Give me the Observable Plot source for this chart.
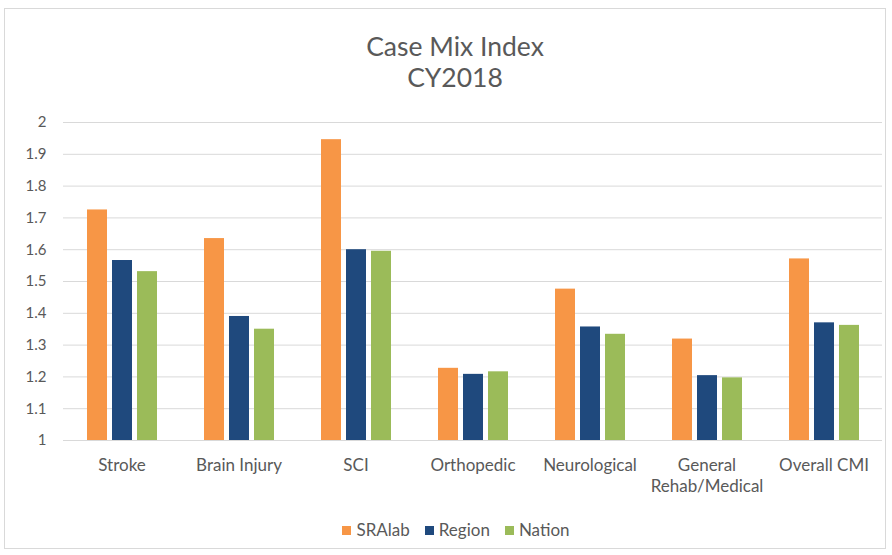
<!DOCTYPE html>
<html>
<head>
<meta charset="utf-8">
<script src="https://cdn.jsdelivr.net/npm/d3@7"></script>
<script src="https://cdn.jsdelivr.net/npm/@observablehq/plot@0.6"></script>
<style>
  html, body { margin: 0; padding: 0; background: #fff; }
  body { width: 892px; height: 555px; position: relative; overflow: hidden; font-family: Lato, "Open Sans", sans-serif; color: #595959; }
  #frame { position: absolute; left: 4px; top: 8px; width: 882px; height: 541px; border: 1px solid #d9d9d9; box-sizing: border-box; }
  #title { position: absolute; left: 0; width: 892px; top: 31px; text-align: center; font-size: 26.5px; line-height: 31px; color: #595959; padding-left: 18px; box-sizing: border-box; }
  #chart { position: absolute; left: 0; top: 100px; }
  #legend { position: absolute; left: 0; width: 892px; top: 519px; display: flex; justify-content: center; gap: 15px; font-size: 17px; line-height: 22px; color: #595959; padding-left: 20px; box-sizing: border-box; }
  #legend span.item { display: inline-flex; align-items: center; gap: 5px; }
  #legend span.sw { display: inline-block; width: 9px; height: 9px; }
  #chart svg { font-family: Lato, "Open Sans", sans-serif; }
  #chart svg text { fill: #595959; }
</style>
</head>
<body>
<div id="frame"></div>
<div id="title">Case Mix Index<br>CY2018</div>
<div id="chart"></div>
<div id="legend"></div>
<script>
const categories = ["Stroke", "Brain Injury", "SCI", "Orthopedic", "Neurological", "General Rehab/Medical", "Overall CMI"];
const seriesNames = ["SRAlab", "Region", "Nation"];
const sralab = [1.725, 1.635, 1.946, 1.227, 1.476, 1.319, 1.571];
const region = [1.566, 1.390, 1.600, 1.208, 1.357, 1.204, 1.370];
const nation = [1.531, 1.350, 1.595, 1.216, 1.334, 1.197, 1.362];
const colors = ["#F79646", "#1F497D", "#9BBB59"];
const yTicks = [1, 1.1, 1.2, 1.3, 1.4, 1.5, 1.6, 1.7, 1.8, 1.9, 2];

const seriesValues = [sralab, region, nation];
const data = [];
categories.forEach((c, i) => {
  seriesNames.forEach((s, j) => {
    data.push({category: c, series: s, value: seriesValues[j][i]});
  });
});

const chart = Plot.plot({
  width: 892,
  height: 400,
  marginTop: 22,
  marginBottom: 60,
  marginLeft: 62,
  marginRight: 10,
  style: {fontSize: "15px", color: "#595959", background: "transparent"},
  fx: {
    domain: categories,
    padding: 0,
    label: null,
    tickSize: 0,
    tickPadding: 18,
    tickFormat: d => d === "General Rehab/Medical" ? "General\nRehab/Medical" : d
  },
  x: {domain: seriesNames, axis: null, paddingInner: 0.2, paddingOuter: 0.94},
  y: {
    domain: [1, 2],
    ticks: yTicks,
    tickFormat: d => String(d),
    tickSize: 0,
    tickPadding: 17,
    label: null
  },
  color: {domain: seriesNames, range: colors},
  marks: [
    Plot.ruleY(yTicks, {stroke: "#d9d9d9", strokeWidth: 1}),
    Plot.barY(data, {fx: "category", x: "series", y1: 1, y2: "value", fill: "series"})
  ]
});
document.getElementById("chart").appendChild(chart);
// larger font and line spacing for category labels
chart.querySelectorAll('g[aria-label^="fx-axis"] text').forEach(t => {
  t.style.fontSize = "17px";
  const spans = t.querySelectorAll("tspan");
  spans.forEach((sp, k) => { if (k > 0) sp.setAttribute("dy", "21px"); });
});

const legend = document.getElementById("legend");
seriesNames.forEach((s, i) => {
  const item = document.createElement("span");
  item.className = "item";
  const sw = document.createElement("span");
  sw.className = "sw";
  sw.style.background = colors[i];
  item.appendChild(sw);
  item.appendChild(document.createTextNode(s));
  legend.appendChild(item);
});
</script>
</body>
</html>
